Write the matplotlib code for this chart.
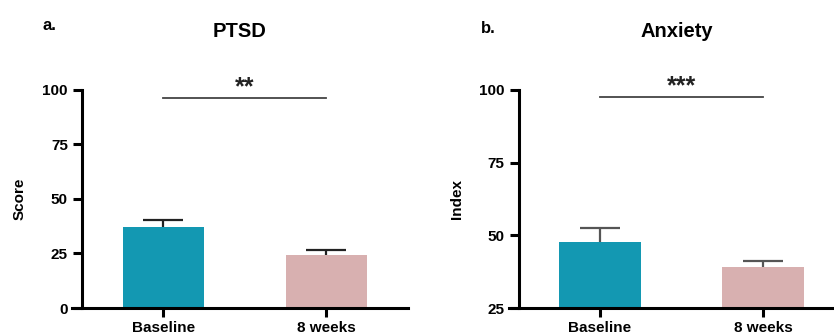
import numpy as np
import matplotlib
matplotlib.use('Agg')
import matplotlib.pyplot as plt

plt.rcParams['font.family'] = ['Liberation Sans', 'DejaVu Sans']
plt.rcParams['font.weight'] = 'bold'

groups = ['Baseline', '8 weeks']
ptsd_mean = [37.2, 24.3]
ptsd_err = [3.3, 2.2]
anx_mean = [47.8, 39.2]
anx_err = [4.7, 2.1]

ptsd_ticks = [0, 25, 50, 75, 100]
anx_ticks = [25, 50, 75, 100]

bar_colors = ['#1398B2', '#D8B0B0']

fig = plt.figure(figsize=(8.34, 3.36), dpi=100)


def panel(rect, means, errs, ticks, ylabel, title, letter, stars, sig_y,
          err_color, letter_xy):
    ax = fig.add_axes(rect)
    x = np.arange(len(groups))
    ax.bar(x, means, width=0.5, color=bar_colors, zorder=2)
    # upper error only: drop the lower cap
    eb = ax.errorbar(x, means, yerr=[np.zeros(len(errs)), errs], fmt='none',
                     ecolor=err_color, elinewidth=1.6, capsize=14.4,
                     capthick=1.6, zorder=1)
    eb[1][0].remove()
    ax.set_xlim(-0.56, 1.5)
    ax.set_ylim(ticks[0], ticks[-1])
    ax.spines['left'].set_position(('data', -0.5))
    ax.spines['left'].set_bounds(ticks[0], ticks[-1])
    for s in ['top', 'right']:
        ax.spines[s].set_visible(False)
    for s in ['left', 'bottom']:
        ax.spines[s].set_linewidth(2.2)
    ax.set_yticks(ticks)
    ax.set_xticks(x)
    ax.set_xticklabels(groups, fontsize=12.3, fontweight='bold')
    ax.tick_params(axis='both', width=2.2, length=6.5, labelsize=11)
    ax.tick_params(axis='x', pad=3)
    ax.set_ylabel(ylabel, fontsize=11, fontweight='bold')
    ax.set_title(title, fontsize=14.5, fontweight='bold', pad=38)

    # significance bracket
    ax.plot([0, 1], [sig_y, sig_y], color='#444444', lw=1.3, clip_on=False)
    ax.annotate(stars, xy=(0.5, sig_y), xytext=(0, 2.5),
                textcoords='offset points', ha='center', va='baseline',
                fontsize=18, fontweight='bold', color='#222222')
    fig.text(letter_xy[0], letter_xy[1], letter, fontsize=12,
             fontweight='bold', ha='left', va='center')
    return ax


ax1 = panel([0.0863, 0.0833, 0.403, 0.649], ptsd_mean, ptsd_err, ptsd_ticks,
            'Score', 'PTSD', 'a.', '**', 96.5, '#222222', (0.051, 0.925))
ax1.yaxis.set_label_coords(-0.135, 0.5)

ax2 = panel([0.610, 0.0833, 0.4026, 0.649], anx_mean, anx_err, anx_ticks,
            'Index', 'Anxiety', 'b.', '***', 97.6, '#555555', (0.577, 0.915))
ax2.yaxis.set_label_coords(-0.134, 0.5)

fig.savefig('out.png', dpi=100)
